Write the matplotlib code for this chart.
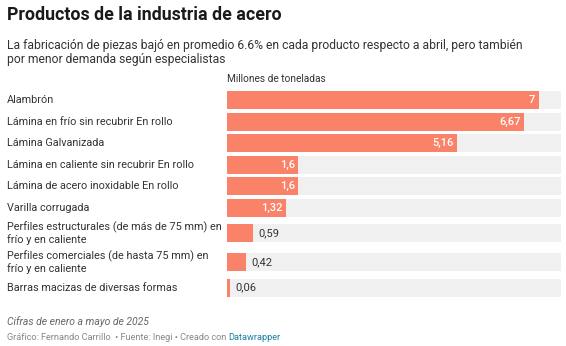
import matplotlib.pyplot as plt
import numpy as np

plt.rcParams['font.family'] = ['Roboto', 'DejaVu Sans']

productos = [
    'Alambrón',
    'Lámina en frío sin recubrir En rollo',
    'Lámina Galvanizada',
    'Lámina en caliente sin recubrir En rollo',
    'Lámina de acero inoxidable En rollo',
    'Varilla corrugada',
    'Perfiles estructurales (de más de 75 mm) en\nfrío y en caliente',
    'Perfiles comerciales (de hasta 75 mm) en\nfrío y en caliente',
    'Barras macizas de diversas formas',
]
valores = [7, 6.67, 5.16, 1.6, 1.6, 1.32, 0.59, 0.42, 0.06]
etiquetas = ['7', '6,67', '5,16', '1,6', '1,6', '1,32', '0,59', '0,42', '0,06']

W, H = 566, 346
fig = plt.figure(figsize=(W / 100, H / 100), dpi=100)
fig.patch.set_facecolor('white')

# row centres in pixel units, two-line labels get extra room
lines = [p.count('\n') + 1 for p in productos]
centres = [100.0]
for i in range(1, len(productos)):
    centres.append(centres[-1] + 21.6 + 3.7 * (lines[i - 1] - 1) + 3.7 * (lines[i] - 1))
centres = np.array(centres)

top, bottom = 86, 302
x0, x1 = 227, 561
ax = fig.add_axes([x0 / W, 1 - bottom / H, (x1 - x0) / W, (bottom - top) / H])
xmax = 7.5
ax.set_xlim(0, xmax)
ax.set_ylim(bottom, top)
ax.axis('off')

bar_h = 18
ax.barh(centres, [xmax] * len(valores), height=bar_h, color='#f0f0f0', linewidth=0)
ax.barh(centres, valores, height=bar_h, color='#fa8268', linewidth=0)

for y, v, t in zip(centres, valores, etiquetas):
    if v > 1:
        ax.text(v - 0.08, y, t, ha='right', va='center', color='white',
                fontsize=8, fontweight='medium')
    else:
        ax.text(v + 0.12, y, t, ha='left', va='center', color='#333333', fontsize=8)

for y, p in zip(centres, productos):
    fig.text(7 / W, 1 - y / H, p, ha='left', va='center', fontsize=7.8,
             color='#333333', linespacing=1.15)

fig.text(7 / W, 1 - 15 / H, 'Productos de la industria de acero', fontsize=12.8,
         fontweight='bold', color='#1a1a1a', ha='left', va='center')
fig.text(7 / W, 1 - 53 / H,
         'La fabricación de piezas bajó en promedio 6.6% en cada producto respecto a abril, pero también\n'
         'por menor demanda según especialistas',
         fontsize=8.7, color='#333333', ha='left', va='center', linespacing=1.1)
fig.text(x0 / W, 1 - 79 / H, 'Millones de toneladas', fontsize=7.3, color='#333333',
         ha='left', va='center')

fig.text(7 / W, 1 - 322 / H, 'Cifras de enero a mayo de 2025', fontsize=7.5,
         style='italic', color='#666666', ha='left', va='center')
t = fig.text(7 / W, 1 - 338 / H, 'Gráfico: Fernando Carrillo  • Fuente: Inegi • Creado con ',
             fontsize=6.6, color='#888888', ha='left', va='center')
fig.canvas.draw()
bb = t.get_window_extent()
fig.text(bb.x1 / W, 1 - 338 / H, 'Datawrapper', fontsize=6.6, color='#1d81a2',
         ha='left', va='center')

fig.savefig('out.png', dpi=100)
